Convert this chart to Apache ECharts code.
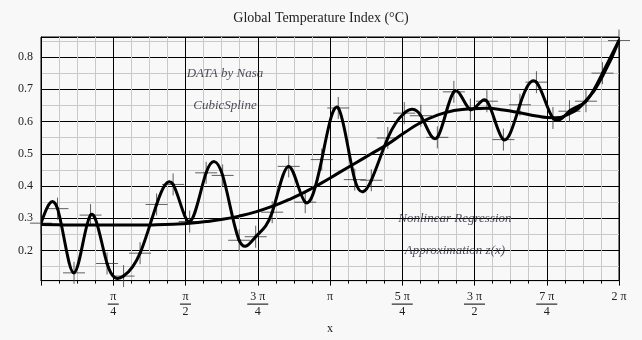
<!DOCTYPE html>
<html>
<head>
<meta charset="utf-8">
<title>Global Temperature Index</title>
<script src="https://cdn.jsdelivr.net/npm/echarts@6/dist/echarts.min.js"></script>
<style>
  html, body { margin: 0; padding: 0; background: #f8f8f8; }
  #chart { width: 642px; height: 340px; }
</style>
</head>
<body>
<div id="chart"></div>
<script>
// Sample positions on [0, 2π] (36 evenly spaced samples)
const sampleX = [
  0.0000, 0.1795, 0.3590, 0.5386, 0.7181, 0.8976, 1.0771, 1.2566, 1.4362,
  1.6157, 1.7952, 1.9747, 2.1542, 2.3337, 2.5133, 2.6928, 2.8723, 3.0518,
  3.2313, 3.4109, 3.5904, 3.7699, 3.9494, 4.1289, 4.3085, 4.4880, 4.6675,
  4.8470, 5.0265, 5.2061, 5.3856, 5.5651, 5.7446, 5.9241, 6.1037, 6.28318
];

// Temperature index data (°C)
const tempData = [
  0.285, 0.330, 0.131, 0.310, 0.160, 0.121, 0.192, 0.343, 0.405,
  0.290, 0.441, 0.433, 0.232, 0.243, 0.319, 0.461, 0.350, 0.482,
  0.642, 0.420, 0.418, 0.549, 0.626, 0.618, 0.551, 0.692, 0.637,
  0.663, 0.544, 0.652, 0.722, 0.611, 0.632, 0.663, 0.750, 0.851
];

// Nonlinear regression approximation z(x) at the same positions
const regressionData = [
  0.281, 0.280, 0.279, 0.279, 0.279, 0.279, 0.279, 0.280, 0.282,
  0.285, 0.290, 0.297, 0.307, 0.320, 0.337, 0.358, 0.382, 0.410,
  0.440, 0.470, 0.500, 0.530, 0.565, 0.597, 0.620, 0.634, 0.640,
  0.641, 0.636, 0.627, 0.617, 0.612, 0.624, 0.665, 0.740, 0.851
];

// Axis tick labels
const xTickLabels = ['', 'π/4', 'π/2', '3 π/4', 'π', '5 π/4', '3 π/2', '7 π/4', '2 π'];
const yTickLabels = ['0.2', '0.3', '0.4', '0.5', '0.6', '0.7', '0.8'];

// Text notes placed in data coordinates
const noteX = [2, 2, 4.5, 4.5];
const noteY = [0.75, 0.65, 0.3, 0.2];
const noteText = ['DATA by Nasa', 'CubicSpline', 'Nonlinear Regression', 'Approximation z(x)'];

const SERIF = '"Liberation Serif", "DejaVu Serif", serif';
const TWO_PI = Math.PI * 2;
const QUARTER = Math.PI / 4;

// Natural cubic spline: end slopes of each segment, so every segment
// can be drawn as an exact cubic Bézier between two data points.
function naturalSplineSlopes(xs, ys) {
  const n = xs.length;
  const h = [];
  for (let i = 0; i < n - 1; i++) h.push(xs[i + 1] - xs[i]);
  const M = new Array(n).fill(0);
  if (n > 2) {
    const a = [], b = [], c = [], d = [];
    for (let i = 1; i < n - 1; i++) {
      a.push(h[i - 1]);
      b.push(2 * (h[i - 1] + h[i]));
      c.push(h[i]);
      d.push(6 * ((ys[i + 1] - ys[i]) / h[i] - (ys[i] - ys[i - 1]) / h[i - 1]));
    }
    const m = b.length;
    for (let i = 1; i < m; i++) {
      const w = a[i] / b[i - 1];
      b[i] -= w * c[i - 1];
      d[i] -= w * d[i - 1];
    }
    const sol = new Array(m);
    sol[m - 1] = d[m - 1] / b[m - 1];
    for (let i = m - 2; i >= 0; i--) sol[i] = (d[i] - c[i] * sol[i + 1]) / b[i];
    for (let i = 0; i < m; i++) M[i + 1] = sol[i];
  }
  const slopes = [];
  for (let i = 0; i < n - 1; i++) {
    slopes.push((ys[i + 1] - ys[i]) / h[i] - h[i] * (2 * M[i] + M[i + 1]) / 6);
  }
  const k = n - 2;
  slopes.push((ys[n - 1] - ys[k]) / h[k] + h[k] * (M[k] + 2 * M[n - 1]) / 6);
  return slopes;
}

const splineSlopes = naturalSplineSlopes(sampleX, tempData);

function xLabel(value) {
  const k = Math.round(value / QUARTER);
  const lab = xTickLabels[k] || '';
  if (!lab) return '';
  if (lab.indexOf('/') >= 0) {
    const parts = lab.split('/');
    const barStyle = parts[0].length > 1 ? 'bw' : 'bn';
    return '{n|' + parts[0] + '}\n{' + barStyle + '| }\n{d|' + parts[1] + '}';
  }
  return '{n|' + lab + '}';
}

function yLabel(value) {
  for (const t of yTickLabels) {
    if (Math.abs(parseFloat(t) - value) < 1e-6) return t;
  }
  return '';
}

const chart = echarts.init(document.getElementById('chart'), null, { renderer: 'canvas' });

const option = {
  backgroundColor: '#f8f8f8',
  animation: false,
  title: {
    text: 'Global Temperature Index (°C)',
    left: 'center',
    top: 6,
    textStyle: { fontFamily: SERIF, fontSize: 14, fontWeight: 'normal', color: '#222' }
  },
  grid: {
    left: 41, right: 23, top: 37, bottom: 59,
    show: true, borderColor: '#000', borderWidth: 1, backgroundColor: 'transparent'
  },
  xAxis: {
    type: 'value',
    min: 0,
    max: TWO_PI,
    interval: QUARTER,
    name: 'x',
    nameLocation: 'middle',
    nameGap: 40,
    nameTextStyle: { fontFamily: SERIF, fontSize: 12, color: '#222' },
    axisLine: { show: true, onZero: false, lineStyle: { color: '#000', width: 1 } },
    axisTick: { show: true, length: 5, lineStyle: { color: '#000', width: 1 } },
    minorTick: { show: true, splitNumber: 4, length: 3, lineStyle: { color: '#000', width: 1 } },
    splitLine: { show: true, lineStyle: { color: '#000', width: 1 } },
    minorSplitLine: { show: true, lineStyle: { color: '#c9c9c9', width: 1 } },
    axisLabel: {
      margin: 10,
      formatter: xLabel,
      showMinLabel: false,
      fontFamily: SERIF,
      color: '#222',
      rich: {
        n: { fontFamily: SERIF, fontSize: 12, lineHeight: 12, color: '#222', align: 'center' },
        bn: { width: 11, height: 1, lineHeight: 3, backgroundColor: '#000', align: 'center' },
        bw: { width: 21, height: 1, lineHeight: 3, backgroundColor: '#000', align: 'center' },
        d: { fontFamily: SERIF, fontSize: 12, lineHeight: 13, color: '#222', align: 'center' }
      }
    }
  },
  yAxis: {
    type: 'value',
    min: 0.107,
    max: 0.862,
    splitNumber: 8,
    axisLine: { show: true, onZero: false, lineStyle: { color: '#000', width: 1 } },
    axisTick: { show: false },
    splitLine: { show: true, lineStyle: { color: '#000', width: 1 } },
    minorTick: { show: false, splitNumber: 2 },
    minorSplitLine: { show: true, lineStyle: { color: '#c9c9c9', width: 1 } },
    axisLabel: {
      margin: 8,
      formatter: yLabel,
      fontFamily: SERIF,
      fontSize: 12,
      color: '#222'
    }
  },
  series: [
    {
      name: 'Data',
      type: 'scatter',
      z: 2,
      symbol: 'path://M0,10L20,10M10,0L10,20',
      symbolSize: [22, 22],
      itemStyle: { color: 'transparent', borderColor: '#3a3a3a', borderWidth: 1 },
      data: sampleX.map((x, i) => [x, tempData[i]]),
      silent: true
    },
    {
      name: 'CubicSpline',
      type: 'custom',
      z: 3,
      clip: true,
      silent: true,
      data: sampleX.map((x, i) => [x, tempData[i]]),
      renderItem: function (params, api) {
        const i = params.dataIndex;
        if (i >= sampleX.length - 1) return null;
        const x0 = sampleX[i], x1 = sampleX[i + 1], h = x1 - x0;
        const y0 = tempData[i], y1 = tempData[i + 1];
        const p0 = api.coord([x0, y0]);
        const c1 = api.coord([x0 + h / 3, y0 + h * splineSlopes[i] / 3]);
        const c2 = api.coord([x1 - h / 3, y1 - h * splineSlopes[i + 1] / 3]);
        const p1 = api.coord([x1, y1]);
        return {
          type: 'bezierCurve',
          shape: {
            x1: p0[0], y1: p0[1],
            cpx1: c1[0], cpy1: c1[1],
            cpx2: c2[0], cpy2: c2[1],
            x2: p1[0], y2: p1[1]
          },
          style: { stroke: '#000', lineWidth: 3, fill: null, lineCap: 'round' }
        };
      }
    },
    {
      name: 'Regression',
      type: 'line',
      z: 3,
      smooth: 0.5,
      symbol: 'none',
      lineStyle: { color: '#000', width: 3 },
      data: sampleX.map((x, i) => [x, regressionData[i]]),
      silent: true
    },
    {
      name: 'Notes',
      type: 'scatter',
      z: 4,
      symbolSize: 1,
      itemStyle: { color: 'transparent' },
      data: noteX.map((x, i) => [x, noteY[i], noteText[i]]),
      label: {
        show: true,
        position: 'inside',
        formatter: p => p.value[2],
        fontFamily: SERIF,
        fontStyle: 'italic',
        fontSize: 13,
        color: '#1e2130'
      },
      silent: true
    }
  ]
};

chart.setOption(option);
</script>
</body>
</html>
